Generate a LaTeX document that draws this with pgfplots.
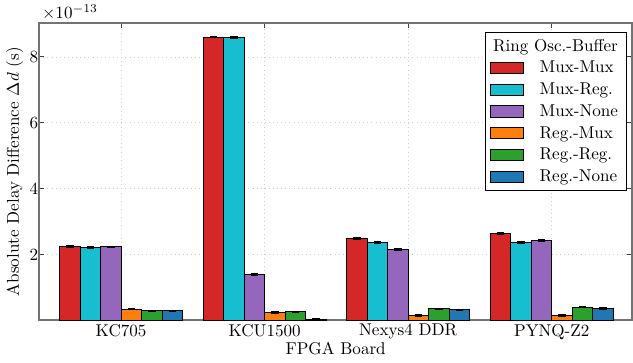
\documentclass[border=0pt]{standalone}
\usepackage{pgfplots}
\pgfplotsset{compat=1.18}
\definecolor{cMM}{HTML}{D62728}
\definecolor{cMR}{HTML}{17BECF}
\definecolor{cMN}{HTML}{9467BD}
\definecolor{cRM}{HTML}{FF7F0E}
\definecolor{cRR}{HTML}{2CA02C}
\definecolor{cRN}{HTML}{1F77B4}
\begin{document}
\begin{tikzpicture}
\begin{axis}[
  name=ax,
  scale only axis,
  width=347pt, height=174pt,
  ybar=0pt, bar width=0.143,
  xmin=-0.57, xmax=3.56,
  ymin=0, ymax=9.03,
  xtick={0,1,2,3},
  xticklabels={KC705,KCU1500,Nexys4 DDR,PYNQ-Z2},
  ytick={2,4,6,8},
  tick align=inside,
  major tick length=3pt,
  grid=major,
  grid style={dotted, gray!40},
  axis line style={black!55, line width=1pt},
  every tick/.style={black!75, line width=0.6pt},
  yticklabel style={inner xsep=0.5pt},
  xticklabel style={inner ysep=2pt},
  xlabel={FPGA Board},
  ylabel={Absolute Delay Difference $\Delta d$ (s)},
  xlabel style={yshift=4pt},
  ylabel style={inner sep=0pt},
  ylabel shift=3pt,
  legend cell align=left,
  legend style={at={(1,1)}, anchor=north east, xshift=-3pt, yshift=-5pt,
    draw=black, line width=0.6pt, row sep=0.4pt, font=\normalsize},
  legend image code/.code={\draw[#1] (0cm,-0.11cm) rectangle (0.68cm,0.12cm); \path (0.68cm+7pt,0);},
  every axis plot/.append style={draw=black, line width=0.6pt,
    error bars/y dir=both, error bars/y explicit,
    error bars/error bar style={black, line width=0.7pt},
    error bars/error mark options={rotate=90, mark size=2.2pt, black, line width=0.7pt}},
]
\addlegendimage{empty legend}
\addlegendentry{\hspace{-27.3pt}Ring Osc.-Buffer}
\addplot[fill=cMM] coordinates {(0,2.24) +- (0,0.02) (1,8.60) +- (0,0.02) (2,2.48) +- (0,0.02) (3,2.63) +- (0,0.03)};
\addlegendentry{Mux-Mux}
\addplot[fill=cMR] coordinates {(0,2.22) +- (0,0.02) (1,8.59) +- (0,0.02) (2,2.36) +- (0,0.02) (3,2.36) +- (0,0.03)};
\addlegendentry{Mux-Reg.}
\addplot[fill=cMN] coordinates {(0,2.23) +- (0,0.02) (1,1.39) +- (0,0.02) (2,2.16) +- (0,0.03) (3,2.43) +- (0,0.03)};
\addlegendentry{Mux-None}
\addplot[fill=cRM] coordinates {(0,0.34) +- (0,0.02) (1,0.24) +- (0,0.02) (2,0.14) +- (0,0.02) (3,0.15) +- (0,0.03)};
\addlegendentry{Reg.-Mux}
\addplot[fill=cRR] coordinates {(0,0.29) +- (0,0.02) (1,0.26) +- (0,0.02) (2,0.35) +- (0,0.02) (3,0.40) +- (0,0.02)};
\addlegendentry{Reg.-Reg.}
\addplot[fill=cRN] coordinates {(0,0.29) +- (0,0.02) (1,0.03) +- (0,0.01) (2,0.32) +- (0,0.02) (3,0.36) +- (0,0.02)};
\addlegendentry{Reg.-None}
\end{axis}
\node[anchor=base west, inner sep=0pt, xshift=1.5pt, yshift=2.5pt] at (ax.north west) {$\times10^{-13}$};
\path ([yshift=13.5pt]ax.north west);
\path ([yshift=-24.5pt]ax.south east);
\path ([xshift=-23pt]ax.south west);
\end{tikzpicture}
\end{document}
